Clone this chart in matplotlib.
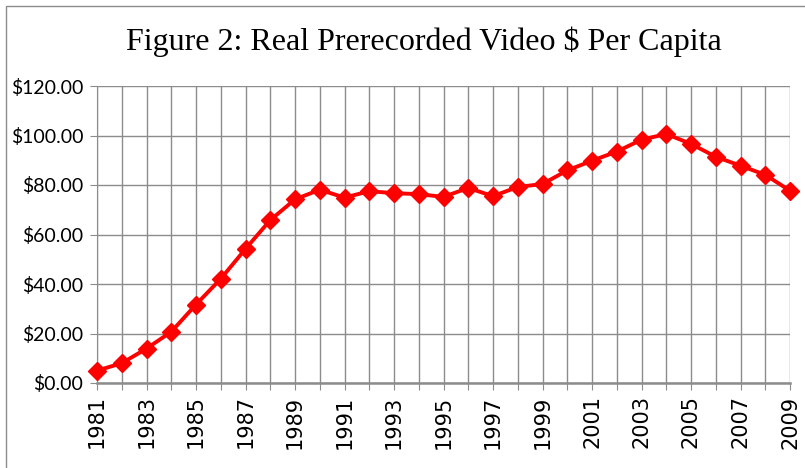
import numpy as np
import matplotlib
matplotlib.use('Agg')
import matplotlib.pyplot as plt
from matplotlib.patches import Rectangle
from matplotlib.ticker import FuncFormatter, MultipleLocator

years = list(range(1981, 2010))
per_capita = [5.0, 8.0, 13.9, 20.7, 31.7, 42.1, 54.2, 65.8, 74.2, 78.1,
              74.9, 77.5, 76.7, 76.3, 75.2, 78.8, 75.5, 79.2, 80.4, 85.9,
              89.8, 93.5, 98.3, 100.6, 96.6, 91.4, 87.8, 84.1, 77.7]
year_labels = [str(y) if (y - 1981) % 2 == 0 else '' for y in years]
title = 'Figure 2: Real Prerecorded Video $ Per Capita'

fig = plt.figure(figsize=(8.05, 4.68), dpi=100)
ax = fig.add_axes([97 / 805, 1 - 383 / 468, (790 - 97) / 805, (383 - 86) / 468])

ax.plot(years, per_capita, color='#ff0000', lw=2.8, marker='D', ms=9,
        clip_on=False, zorder=3)

ax.set_xlim(1981, 2009)
ax.set_ylim(0, 120)
ax.set_xticks(years)
ax.set_xticklabels(year_labels, rotation=90, fontsize=15, family='DejaVu Sans')
ax.yaxis.set_major_locator(MultipleLocator(20))
ax.yaxis.set_major_formatter(FuncFormatter(lambda v, p: '${:.2f}'.format(v)))
for lab in ax.get_yticklabels():
    lab.set_fontsize(14)
    lab.set_family('Lato')

ax.grid(True, color='#8c8c8c', lw=1.0)
ax.set_axisbelow(True)
for s in ['top', 'right']:
    ax.spines[s].set_visible(False)
ax.spines['left'].set_color('#8c8c8c')
ax.spines['bottom'].set_color('#8c8c8c')
ax.spines['bottom'].set_linewidth(1.8)
ax.tick_params(axis='both', direction='out', length=5, color='#8c8c8c')
ax.tick_params(axis='y', pad=5)
ax.tick_params(axis='x', pad=4)

fig.text(424 / 805, 1 - 42 / 468, title, ha='center', va='center',
         fontsize=23, family='Liberation Serif')

fig.patches.append(Rectangle((6 / 805, -0.05), 1.1, 1 - 6 / 468 + 0.05,
                             transform=fig.transFigure, fill=False,
                             edgecolor='#8c8c8c', lw=1.0))

fig.savefig('out.png', dpi=100)
